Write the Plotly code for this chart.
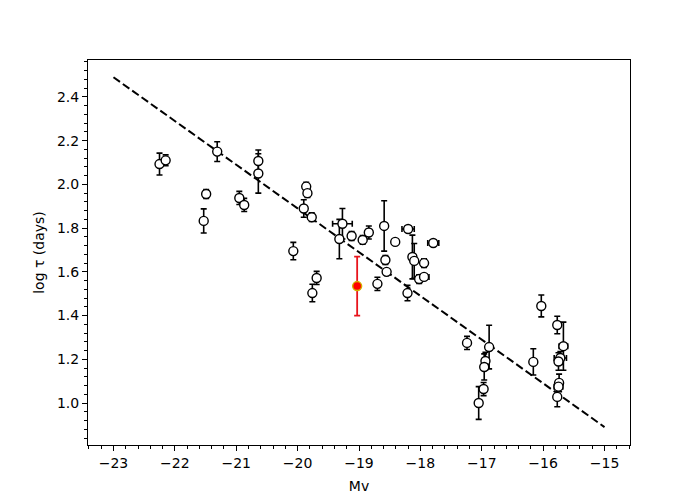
import plotly.graph_objects as go

# Black open-circle sample
mv = [-22.25, -22.15, -21.31, -21.49, -21.53, -20.95, -20.87, -20.64, -20.64,
      -19.86, -19.84, -19.90, -19.77, -20.07, -19.69, -19.76, -19.27, -19.32,
      -19.12, -18.94, -18.84, -18.59, -18.41, -18.20, -17.79, -18.57, -18.55,
      -18.70, -18.13, -18.10, -17.94, -18.02, -17.94, -18.21, -17.24, -16.88,
      -16.94, -16.96, -16.97, -17.05, -16.03, -16.16, -15.77, -15.67, -15.72,
      -15.75, -15.74, -15.75, -15.77]
logtau = [2.093, 2.110, 2.150, 1.956, 1.833, 1.938, 1.906, 2.107, 2.050,
          1.990, 1.960, 1.890, 1.850, 1.695, 1.572, 1.503, 1.820, 1.750,
          1.764, 1.746, 1.780, 1.810, 1.737, 1.796, 1.732, 1.654, 1.600,
          1.545, 1.668, 1.650, 1.640, 1.567, 1.577, 1.503, 1.275, 1.256,
          1.192, 1.165, 1.064, 1.000, 1.444, 1.188, 1.357, 1.260, 1.206,
          1.190, 1.092, 1.075, 1.028]
logtau_err = [0.050, 0.025, 0.045, 0.020, 0.055, 0.030, 0.030, 0.050, 0.090,
              0.020, 0.020, 0.040, 0.020, 0.040, 0.030, 0.040, 0.070, 0.090,
              0.020, 0.020, 0.030, 0.115, 0.000, 0.000, 0.000, 0.020, 0.000,
              0.030, 0.100, 0.080, 0.020, 0.020, 0.000, 0.035, 0.030, 0.100,
              0.040, 0.060, 0.030, 0.075, 0.050, 0.060, 0.040, 0.110, 0.030,
              0.040, 0.040, 0.000, 0.045]
mv_err = [0, 0, 0, 0, 0, 0, 0, 0, 0,
          0, 0, 0, 0, 0, 0, 0, 0.16, 0,
          0, 0, 0, 0, 0, 0.10, 0.09, 0, 0,
          0, 0, 0, 0, 0, 0.08, 0, 0, 0,
          0, 0, 0, 0, 0, 0, 0.05, 0.07, 0.10,
          0, 0, 0.07, 0]

# Highlighted object
red_mv = [-19.03]
red_logtau = [1.535]
red_logtau_err = [0.135]
red_mv_err = [0.04]

# Fitted relation (dashed line)
fit_mv = [-23.0, -15.0]
fit_logtau = [2.49, 0.89]

fig = go.Figure()

fig.add_trace(go.Scatter(
    x=fit_mv, y=fit_logtau, mode="lines",
    line=dict(color="black", width=2, dash="8px,3.5px"),
    showlegend=False, hoverinfo="skip"))

fig.add_trace(go.Scatter(
    x=mv, y=logtau, mode="markers",
    marker=dict(symbol="circle", size=9, color="white",
                line=dict(color="black", width=1.4)),
    error_y=dict(type="data", array=logtau_err, visible=True,
                 color="black", thickness=1.6, width=3),
    error_x=dict(type="data", array=mv_err, visible=True,
                 color="black", thickness=1.6, width=3),
    showlegend=False))

fig.add_trace(go.Scatter(
    x=red_mv, y=red_logtau, mode="markers",
    marker=dict(symbol="circle", size=9, color="red",
                line=dict(color="#d4b000", width=1.4)),
    error_y=dict(type="data", array=red_logtau_err, visible=True,
                 color="#e8141c", thickness=1.8, width=3),
    error_x=dict(type="data", array=red_mv_err, visible=True,
                 color="#e8141c", thickness=1.8, width=3),
    showlegend=False))

axis_common = dict(
    showgrid=False, zeroline=False,
    showline=True, linecolor="black", linewidth=1.1, mirror=True,
    ticks="outside", ticklen=5, tickwidth=1.1, tickcolor="black",
    tickfont=dict(family="DejaVu Sans", size=14, color="black"),
)

fig.update_xaxes(
    range=[-23.415, -14.585], tickmode="linear", tick0=-23, dtick=1,
    minor=dict(ticks="outside", ticklen=2.5, tickwidth=0.8, tickcolor="black",
               dtick=0.2, tick0=-23),
    title=dict(text="Mv", font=dict(family="DejaVu Sans", size=14, color="black"),
               standoff=11),
    **axis_common)

fig.update_yaxes(
    range=[0.808, 2.569], tickmode="linear", tick0=1.0, dtick=0.2,
    tickformat=".1f",
    minor=dict(ticks="outside", ticklen=2.5, tickwidth=0.8, tickcolor="black",
               dtick=0.04, tick0=1.0),
    title=dict(text="log τ (days)", font=dict(family="DejaVu Sans", size=14, color="black"),
               standoff=8),
    **axis_common)

fig.update_layout(
    width=692, height=492,
    margin=dict(l=80, r=70, t=52, b=55, autoexpand=False),
    paper_bgcolor="white", plot_bgcolor="white",
    font=dict(family="DejaVu Sans", size=14, color="black"),
)

fig.write_html("out.html")
